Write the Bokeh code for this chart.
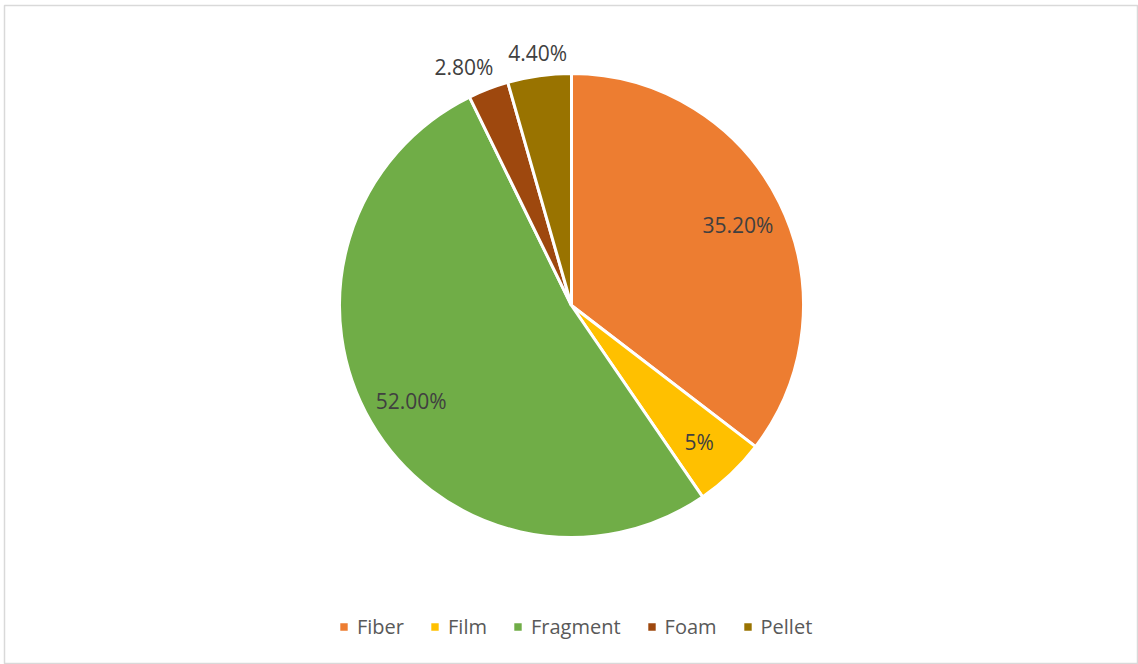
import math
from bokeh.plotting import figure
from bokeh.models import Range1d, ColumnDataSource, Legend, LegendItem
from bokeh.core.properties import value
from bokeh.embed import file_html
from bokeh.resources import INLINE

categories = ["Fiber", "Film", "Fragment", "Foam", "Pellet"]
shares = [35.2, 5.0, 52.0, 2.8, 4.4]
labels = ["35.20%", "5%", "52.00%", "2.80%", "4.40%"]
colors = ["#ED7D31", "#FFC000", "#70AD47", "#9E480E", "#997300"]

W, H = 1138, 664
CX, CY, R = 571, 664 - 305, 232
FONT = "Open Sans"
FS = 21

def text_w(t):
    w = 0.0
    for ch in t:
        w += {".": 0.266, "%": 0.823}.get(ch, 0.572)
    return w * FS

total = sum(shares)
starts, ends = [], []
acc = 0.0
mids = []
for s in shares:
    t1 = acc / total * 2 * math.pi
    acc += s
    t2 = acc / total * 2 * math.pi
    starts.append(math.pi / 2 - t2)
    ends.append(math.pi / 2 - t1)
    mids.append((t1 + t2) / 2)

lx = [0.0] * len(shares)
ly = [0.0] * len(shares)
prev_left = None
for i in reversed(range(len(shares))):
    mid = mids[i]
    if shares[i] >= 5:
        rf = 0.8
        lx[i] = CX + rf * R * math.sin(mid)
        ly[i] = CY + rf * R * math.cos(mid) - 2
    else:
        rf = 1.05
        x = CX + rf * R * math.sin(mid)
        y = CY + rf * R * math.cos(mid) + 11
        half = text_w(labels[i]) / 2
        if prev_left is not None and x + half > prev_left - 15:
            x = prev_left - 15 - half
        prev_left = x - half
        lx[i], ly[i] = x, y

src = ColumnDataSource(dict(cat=categories, start=starts, end=ends, color=colors,
                            lab=labels, lx=lx, ly=ly))

p = figure(width=W, height=H, output_backend="svg", toolbar_location=None,
           x_range=Range1d(4, W), y_range=Range1d(0, H - 5),
           min_border_left=4, min_border_top=5, min_border_right=0, min_border_bottom=0)
p.axis.visible = False
p.grid.visible = False
p.outline_line_color = "#d9d9d9"
p.outline_line_width = 1.5
p.background_fill_color = "white"
p.border_fill_color = "white"

wr = p.wedge(x=CX, y=CY, radius=R, start_angle="start", end_angle="end",
             fill_color="color", line_color="white", line_width=3, source=src)

p.text(x="lx", y="ly", text="lab", source=src, text_align="center",
       text_baseline="middle", text_font=value(FONT), text_font_size=f"{FS}px",
       text_color="#404040")

items = [LegendItem(label=c, renderers=[wr], index=i) for i, c in enumerate(categories)]
legend = Legend(items=items, orientation="horizontal", location=(333, 24),
                glyph_width=13, glyph_height=13, label_standoff=7, spacing=24,
                padding=0, margin=0, border_line_color=None,
                background_fill_alpha=0, label_text_font=FONT,
                label_text_font_size="20px", label_text_color="#595959")
p.add_layout(legend)

open("out.html", "w").write(file_html(p, INLINE))
